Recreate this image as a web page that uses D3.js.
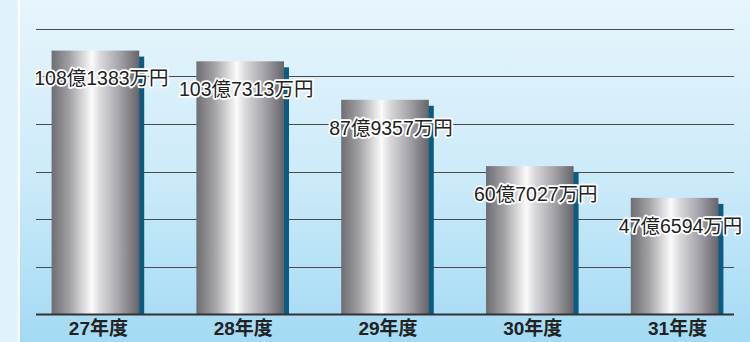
<!DOCTYPE html>
<html><head><meta charset="utf-8">
<script src="https://cdn.jsdelivr.net/npm/d3@7"></script>
<style>html,body{margin:0;padding:0;background:#e0f2fb;}svg{display:block;}</style>
</head><body>
<script>
const categories = ["27年度", "28年度", "29年度", "30年度", "31年度"];
const values = [108.1383, 103.7313, 87.9357, 60.7027, 47.6594]; // 億円
const valueLabels = ["108億1383万円", "103億7313万円", "87億9357万円", "60億7027万円", "47億6594万円"];
const gridCount = 6;

const W = 750, H = 342;
const svg = d3.select("body").append("svg").attr("width", W).attr("height", H);
const defs = svg.append("defs");

const bg = defs.append("linearGradient").attr("id", "bg").attr("x1", 0).attr("y1", 0).attr("x2", 0).attr("y2", 1);
bg.append("stop").attr("offset", 0).attr("stop-color", "#e7f5fc");
bg.append("stop").attr("offset", 0.5).attr("stop-color", "#cdebf9");
bg.append("stop").attr("offset", 1).attr("stop-color", "#a4daf4");

const bar = defs.append("linearGradient").attr("id", "bar").attr("x1", 0).attr("y1", 0).attr("x2", 1).attr("y2", 0);
[[0, "#6e6e72"], [0.2, "#a0a0a4"], [0.38, "#e0e0e2"], [0.46, "#fbfbfb"], [0.56, "#d8d8dc"], [0.78, "#a2a2a8"], [1, "#646469"]]
  .forEach(([o, c]) => bar.append("stop").attr("offset", o).attr("stop-color", c));

svg.append("rect").attr("width", W).attr("height", H).attr("fill", "#e0f2fb");
svg.append("rect").attr("x", 20).attr("y", 0).attr("width", W - 20).attr("height", H).attr("fill", "url(#bg)");
svg.append("rect").attr("x", 18).attr("y", 0).attr("width", 2).attr("height", H).attr("fill", "#ffffff");

const x = d3.scaleBand().domain(categories).range([23, 747]).paddingInner(0.395).paddingOuter(0.1975);
const y = d3.scaleLinear().domain([0, 117]).range([314, 29]);

const gridVals = d3.range(1, gridCount + 1).map(i => i * 117 / gridCount);
svg.append("g").selectAll("line").data(gridVals).join("line")
  .attr("x1", 36).attr("x2", 734)
  .attr("y1", d => Math.round(y(d)) + 0.5).attr("y2", d => Math.round(y(d)) + 0.5)
  .attr("stroke", "#4a4a4a").attr("stroke-width", 1);

const g = svg.append("g");
g.selectAll("rect.sh").data(values).join("rect").attr("class", "sh")
  .attr("x", (d, i) => x(categories[i]) + 5)
  .attr("y", d => y(d) + 6)
  .attr("width", x.bandwidth())
  .attr("height", d => y(0) - y(d) - 6)
  .attr("fill", "#0b5b82");
g.selectAll("rect.b").data(values).join("rect").attr("class", "b")
  .attr("x", (d, i) => x(categories[i]))
  .attr("y", d => y(d))
  .attr("width", x.bandwidth())
  .attr("height", d => y(0) - y(d))
  .attr("fill", "url(#bar)");

svg.append("line").attr("x1", 36).attr("x2", 734).attr("y1", 314.5).attr("y2", 314.5)
  .attr("stroke", "#333").attr("stroke-width", 2);

svg.append("g").selectAll("text").data(values).join("text")
  .attr("x", (d, i) => x(categories[i]) + x.bandwidth() / 2 + 6)
  .attr("y", d => y(d) + 28)
  .attr("dy", "0.35em")
  .attr("text-anchor", "middle")
  .attr("font-family", "'Liberation Sans', 'Noto Sans CJK JP', sans-serif")
  .attr("font-size", 19.5)
  .attr("fill", "#222")
  .attr("stroke", "#ffffff").attr("stroke-width", 3.5).attr("stroke-linejoin", "round")
  .attr("paint-order", "stroke")
  .text((d, i) => valueLabels[i]);

const xAxis = d3.axisBottom(x).tickSize(0).tickPadding(0);
const ax = svg.append("g").attr("transform", "translate(3,0)").call(xAxis);
ax.select(".domain").remove();
ax.selectAll("text")
  .attr("y", 328).attr("dy", "0.35em")
  .attr("font-family", "'Liberation Sans', 'Noto Sans CJK JP', sans-serif")
  .attr("font-size", 19).attr("font-weight", "bold").attr("fill", "#222");
</script>
</body></html>
